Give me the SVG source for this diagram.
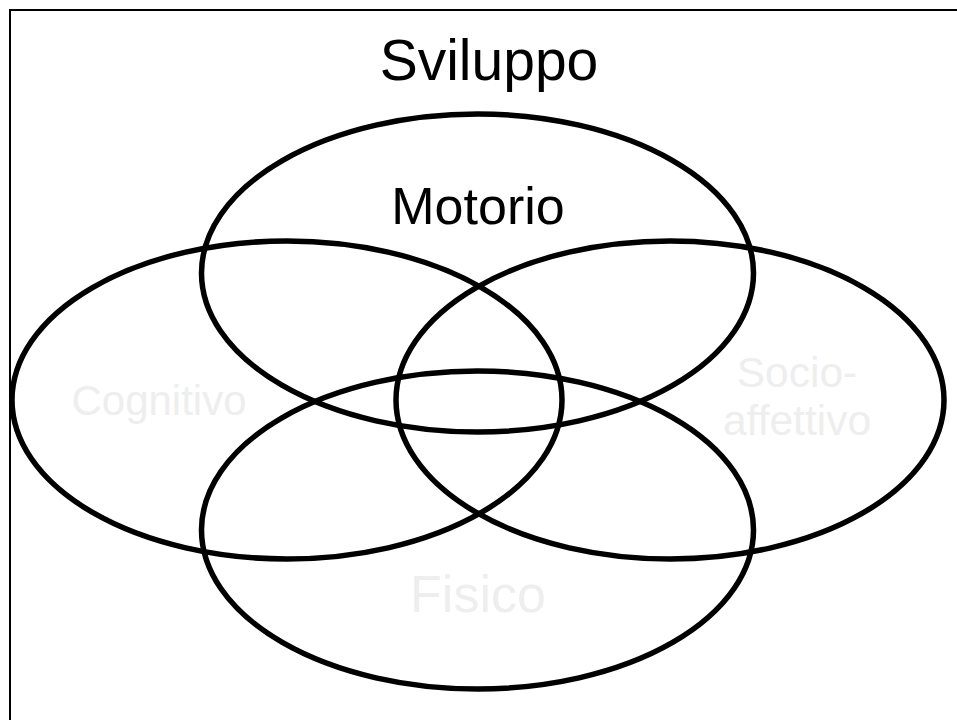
<svg xmlns="http://www.w3.org/2000/svg" width="957" height="720" viewBox="0 0 957 720">
<style>
.e{fill:none;stroke:#000;stroke-width:5.5}
.t{font-family:"Liberation Sans",Arial,sans-serif;text-anchor:middle}
.d{fill:#000}
.l{fill:#eeeeee}
</style>
<rect x="0" y="0" width="957" height="720" fill="#fff"/>
<rect x="10" y="10" width="960" height="730" fill="none" stroke="#000" stroke-width="2"/>
<text class="t d" x="489" y="80" font-size="57">Sviluppo</text>
<g id="motorio"><ellipse class="e" cx="477.5" cy="273" rx="276" ry="159"/><text class="t d" x="478" y="224" font-size="52">Motorio</text></g>
<g id="cognitivo"><ellipse class="e" cx="287" cy="400" rx="275" ry="159"/><text class="t l" x="159" y="415" font-size="42">Cognitivo</text></g>
<g id="socioaffettivo"><ellipse class="e" cx="670" cy="400" rx="274" ry="159"/><text class="t l" x="797" y="387" font-size="42.5">Socio-</text><text class="t l" x="797" y="435" font-size="42.5">affettivo</text></g>
<g id="fisico"><ellipse class="e" cx="477.5" cy="530" rx="276" ry="159"/><text class="t l" x="478" y="612" font-size="52">Fisico</text></g>
<g id="connectors"/>
</svg>
